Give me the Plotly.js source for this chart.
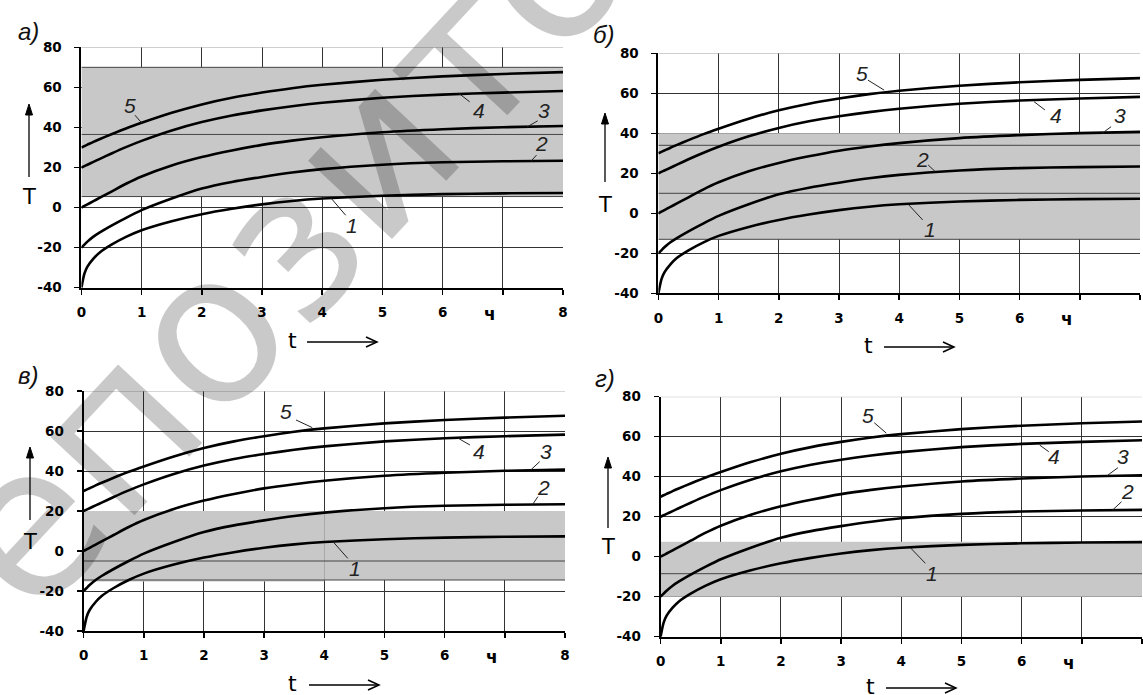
<!DOCTYPE html>
<html>
<head>
<meta charset="utf-8">
<script src="https://cdn.plot.ly/plotly-3.0.1.min.js"></script>
<style>html,body{margin:0;padding:0;background:#fff;}#chart{width:1143px;height:695px;}</style>
</head>
<body>
<div id="chart"></div>
<script>
// ---- data ----
const t = [0, 0.05, 0.1, 0.2, 0.3, 0.5, 0.75, 1, 1.5, 2, 2.5, 3, 3.5, 4, 5, 6, 7, 8];
const curve1 = [-40, -33, -29.5, -25.5, -22.5, -18.5, -14.5, -11.3, -6.8, -3.3, -0.6, 1.6, 3.3, 4.5, 5.9, 6.7, 7.1, 7.3];
const curve2 = [-20, -18.5, -17, -14.5, -12.5, -9, -5, -1.3, 4.5, 9.5, 12.8, 15.3, 17.5, 19.2, 21.4, 22.6, 23.1, 23.4];
const curve3 = [0, 0.8, 1.6, 3.2, 4.8, 8, 12, 15.5, 21, 25.2, 28.5, 31.3, 33.4, 35.1, 37.6, 39.1, 40.1, 40.7];
const curve4 = [20, 20.7, 21.4, 22.8, 24.2, 27, 30.3, 33.3, 38.5, 42.7, 46, 48.5, 50.6, 52.3, 54.8, 56.4, 57.4, 58.2];
const curve5 = [30, 30.7, 31.4, 32.8, 34.1, 36.6, 39.6, 42.3, 47.3, 51.5, 54.8, 57.4, 59.6, 61.3, 63.8, 65.5, 66.7, 67.6];
const curves = [curve1, curve2, curve3, curve4, curve5];
const curveNames = ['1', '2', '3', '4', '5'];

const xTickVals = [0, 1, 2, 3, 4, 5, 6, 7, 8];
const xTickText = ['0', '1', '2', '3', '4', '5', '6', '', '8'];
const unitLabel = 'ч';
const unitPos = 6.78;
const yTickVals = [-40, -20, 0, 20, 40, 60, 80];
const yTickText = ['-40', '-20', '0', '20', '40', '60', '80'];
const panelNames = ['а)', 'б)', 'в)', 'г)'];

// shaded zones [t0, t1, T0, T1] and extra level lines per panel
const bandsA = [[0, 8, 5.5, 70]];
const bandsB = [[0, 8, -13, 40]];
const bandsC = [[0, 4, -15.3, 20], [4, 8, -14.5, 20]];
const bandsD = [[0, 8, -20, 7.5]];
const levelsA = [70, 36.5, 5.5];
const levelsB = [34, 10, -13];
const levelsC = [-5, -14.5];
const levelsD = [-8.5];

// ---- layout configuration ----
const W = 1143, H = 695;
const PX = p => p / W, PY = p => 1 - p / H;

// label entries: [curve index, text t, text T, leader t0, T0, leader t1, T1]
const panels = [
  {dom: [81.4, 563, 47.3, 287.7], bands: bandsA, levels: levelsA,
   name: [28, 32], T: [29, 197], up: [177, 104], tl: [292, 340], arr: [307, 377],
   labels: [[3, 6.6,48.6, 6.45,52.8, 6.27,57.0],[2, 7.68,48.6, 7.58,43.3, 7.4,40.2],[1, 7.65,32, 7.56,26.2, 7.47,23.2],[0, 4.49,-8.8, 4.39,-3.85, 4.15,4.6],[4, 0.8,51, 0.89,46.1, 1.0,42.3]]},
  {dom: [658.4, 1140, 53.3, 293.3], bands: bandsB, levels: levelsB,
   name: [604, 34], T: [605, 205], up: [182, 113], tl: [868, 345], arr: [884, 954],
   labels: [[3, 6.6,49, 6.42,51.7, 6.24,55.8],[2, 7.67,49, 7.52,43.3, 7.37,40.0],[1, 4.39,26.7, 4.48,24.2, 4.6,20.8],[0, 4.51,-8.3, 4.39,-3.3, 4.15,4.5],[4, 3.39,70, 3.48,66.6, 3.75,61.6]]},
  {dom: [83.6, 565, 391, 631], bands: bandsC, levels: levelsC,
   name: [28, 375], T: [30, 542], up: [520, 447], tl: [292, 683], arr: [309, 379],
   labels: [[3, 6.57,49.7, 6.42,53, 6.23,56.3],[2, 7.68,49.7, 7.58,44.7, 7.43,40.5],[1, 7.65,32, 7.55,27.2, 7.46,23.2],[0, 4.51,-8.7, 4.39,-3.7, 4.15,4.5],[4, 3.37,69.7, 3.53,65.5, 3.8,61.7]]},
  {dom: [660.6, 1142, 396.7, 636.7], bands: bandsD, levels: levelsD,
   name: [605, 378], T: [608, 547], up: [528, 457], tl: [870, 686], arr: [886, 956],
   labels: [[3, 6.54,50, 6.45,52.5, 6.3,55.8],[2, 7.69,50, 7.6,44.5, 7.42,40.5],[1, 7.76,32.5, 7.66,27.5, 7.51,23.3],[0, 4.51,-8.3, 4.4,-3.3, 4.15,4.5],[4, 3.44,70.8, 3.55,67, 3.75,61.8]]}
];

const FONT = 'Liberation Sans, Arial, sans-serif';
const WIDE = 'DejaVu Sans, Verdana, sans-serif';
const TICKFONT = {family: WIDE, size: 13.5, color: '#000', weight: 'bold'};
const traces = [];
const shapes = [];
const annotations = [];
const layout = {
  width: W, height: H, margin: {l: 0, r: 0, t: 0, b: 0},
  paper_bgcolor: '#ffffff', plot_bgcolor: '#ffffff', showlegend: false,
  font: {family: FONT, color: '#000'}
};
function paperText(x, y, text, font, extra) {
  return Object.assign({xref: 'paper', yref: 'paper', x: PX(x), y: PY(y), xanchor: 'center', yanchor: 'middle',
    text: text, showarrow: false, font: font}, extra || {});
}

panels.forEach((p, i) => {
  const n = i === 0 ? '' : String(i + 1);
  const xa = 'x' + n, ya = 'y' + n;
  layout['xaxis' + n] = {
    domain: [PX(p.dom[0]), PX(p.dom[1])], anchor: ya, range: [0, 8], fixedrange: true,
    tickvals: xTickVals, ticktext: xTickText, ticks: 'outside', ticklen: 5, tickwidth: 1.5, tickcolor: '#000',
    ticklabelstandoff: 6, tickfont: TICKFONT,
    showgrid: true, gridcolor: '#333', gridwidth: 1, zeroline: false,
    showline: true, linecolor: '#000', linewidth: 2
  };
  layout['yaxis' + n] = {
    domain: [PY(p.dom[3]), PY(p.dom[2])], anchor: xa, range: [-40, 80], fixedrange: true,
    tickvals: yTickVals, ticktext: yTickText, ticks: 'outside', ticklen: 5, tickwidth: 1.5, tickcolor: '#000',
    ticklabelstandoff: 10, tickfont: TICKFONT,
    showgrid: true, gridcolor: '#333', gridwidth: 1, zeroline: false,
    showline: true, linecolor: '#000', linewidth: 2
  };
  p.bands.forEach(b => shapes.push({type: 'rect', xref: xa, yref: ya, x0: b[0], x1: b[1], y0: b[2], y1: b[3],
    fillcolor: '#c8c8c8', line: {width: 0}, layer: 'between'}));
  p.levels.forEach(v => shapes.push({type: 'line', xref: xa, yref: ya, x0: 0, x1: 8, y0: v, y1: v,
    line: {color: '#444', width: 1}, layer: 'between'}));
  shapes.push({type: 'line', xref: xa, yref: ya, x0: 0, x1: 8, y0: 80, y1: 80, line: {color: '#b0b0b0', width: 1}, layer: 'between'});
  curves.forEach((c, k) => traces.push({x: t, y: c, xaxis: xa, yaxis: ya, type: 'scatter', mode: 'lines',
    name: curveNames[k], hoverinfo: 'skip', line: {color: '#000', width: 2.6, shape: 'spline', smoothing: 0.6}}));
  p.labels.forEach(L => {
    annotations.push({xref: xa, yref: ya, x: L[1], y: L[2], xanchor: 'center', yanchor: 'middle', text: curveNames[L[0]], showarrow: false,
      font: {family: FONT, size: 21, color: '#222', style: 'italic'}});
    shapes.push({type: 'line', xref: xa, yref: ya, x0: L[3], y0: L[4], x1: L[5], y1: L[6], line: {color: '#222', width: 1}});
  });
  annotations.push({xref: xa, yref: ya, x: unitPos, y: -40, yshift: -26, xanchor: 'center', yanchor: 'middle', text: unitLabel,
    showarrow: false, font: {family: WIDE, size: 17, color: '#000', weight: 'bold'}});
  annotations.push(paperText(p.name[0], p.name[1], panelNames[i], {family: FONT, size: 24, color: '#111', style: 'italic'}));
  annotations.push(paperText(p.T[0], p.T[1], 'T', {family: WIDE, size: 21, color: '#000'}));
  const ax = p.T[0];
  shapes.push({type: 'line', xref: 'paper', yref: 'paper', x0: PX(ax), x1: PX(ax), y0: PY(p.up[0]), y1: PY(p.up[1] + 8), line: {color: '#000', width: 1.3}});
  shapes.push({type: 'path', xref: 'paper', yref: 'paper',
    path: `M ${PX(ax - 3.5)} ${PY(p.up[1] + 11)} L ${PX(ax)} ${PY(p.up[1])} L ${PX(ax + 3.5)} ${PY(p.up[1] + 11)} Z`,
    fillcolor: '#000', line: {color: '#000', width: 1}});
  annotations.push(paperText(p.tl[0], p.tl[1], 't', {family: WIDE, size: 22, color: '#000'}));
  const ay = p.tl[1] + 2;
  shapes.push({type: 'line', xref: 'paper', yref: 'paper', x0: PX(p.arr[0]), x1: PX(p.arr[1]), y0: PY(ay), y1: PY(ay), line: {color: '#000', width: 1.3}});
  shapes.push({type: 'path', xref: 'paper', yref: 'paper',
    path: `M ${PX(p.arr[1] - 11)} ${PY(ay - 5)} L ${PX(p.arr[1])} ${PY(ay)} L ${PX(p.arr[1] - 11)} ${PY(ay + 5)}`,
    line: {color: '#000', width: 1.5}});
});

// repository watermark
annotations.push(paperText(380, 145, 'Репозиторий', {family: WIDE, size: 210, color: 'rgba(0,0,0,0.21)'}, {textangle: -47}));

layout.shapes = shapes;
layout.annotations = annotations;
Plotly.newPlot('chart', traces, layout, {staticPlot: true, displayModeBar: false});
</script>
</body>
</html>
